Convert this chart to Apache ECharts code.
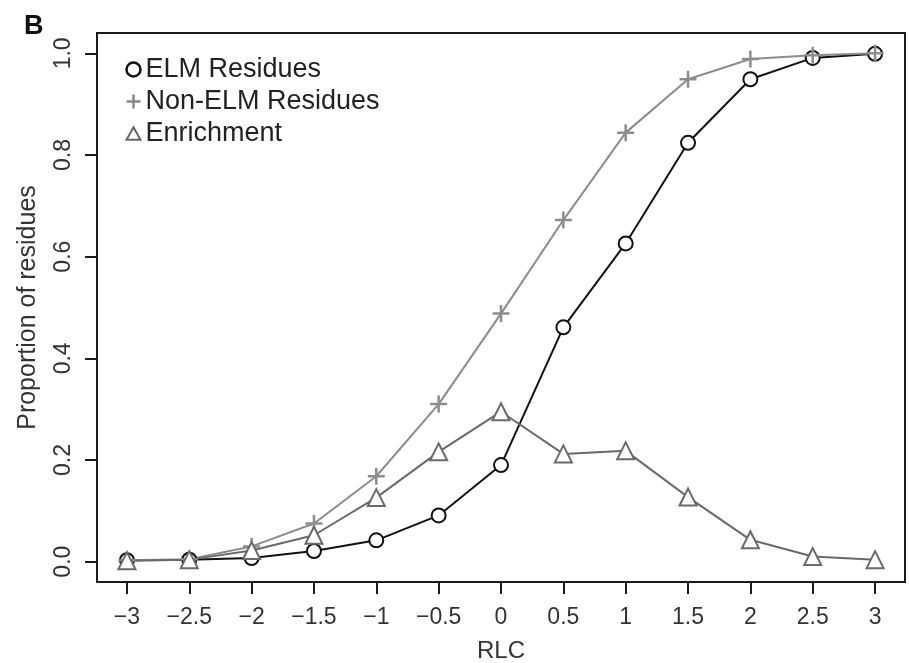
<!DOCTYPE html>
<html lang="en">
<head>
  <meta charset="UTF-8">
  <title>Proportion of residues vs RLC</title>
  <script src="https://cdn.jsdelivr.net/npm/echarts@6/dist/echarts.min.js"></script>
</head>
<body>
<div id="chart"></div>
<style>
  html, body {
    margin: 0;
    width: 100%;
    height: 100%;
    background: #fff;
  }
  #chart {
    width: 909px;
    height: 663px;
  }
</style>
<script>
  // x positions (RLC) and the three curves
  const rlc = [-3, -2.5, -2, -1.5, -1, -0.5, 0, 0.5, 1, 1.5, 2, 2.5, 3];
  const elm = [0.003, 0.004, 0.007, 0.021, 0.042, 0.091, 0.19, 0.461, 0.626, 0.824, 0.949, 0.991, 0.999];
  const nonElm = [0.003, 0.005, 0.03, 0.075, 0.168, 0.31, 0.488, 0.672, 0.844, 0.949, 0.989, 0.996, 1.0];
  const enrichment = [0.002, 0.004, 0.022, 0.052, 0.126, 0.216, 0.295, 0.212, 0.218, 0.127, 0.043, 0.01, 0.004];
  const yTicks = [0, 0.2, 0.4, 0.6, 0.8, 1.0];

  const FONT = 'Liberation Sans, Arial, sans-serif';
  const PLUS = 'path://M0,5L10,5M5,0L5,10';
  const CIRCLE = 'path://M10,5A5,5,0,1,1,0,5A5,5,0,1,1,10,5Z';
  const TRIANGLE = 'path://M5,0L10,9L0,9Z';

  function pairs(ys) {
    return rlc.map((x, i) => [x, ys[i]]);
  }

  const chart = echarts.init(document.getElementById('chart'));
  chart.setOption({
    animation: false,
    backgroundColor: '#fff',
    title: {
      text: 'B',
      left: 19,
      top: 8,
      textStyle: { fontFamily: FONT, fontWeight: 'bold', fontSize: 27, color: '#111' }
    },
    legend: {
      orient: 'vertical',
      left: 119,
      top: 51,
      itemGap: 5,
      itemWidth: 14,
      itemHeight: 14,
      textStyle: { fontFamily: FONT, fontSize: 27, color: '#222' },
      data: [
        { name: 'ELM Residues', icon: CIRCLE, itemStyle: { color: 'none', borderColor: '#111', borderWidth: 2.5 } },
        { name: 'Non-ELM Residues', icon: PLUS, itemStyle: { color: 'none', borderColor: '#888', borderWidth: 2.5 } },
        { name: 'Enrichment', icon: TRIANGLE, itemStyle: { color: 'none', borderColor: '#666', borderWidth: 2 } }
      ]
    },
    grid: {
      left: 97,
      right: 4,
      top: 33,
      bottom: 81,
      outerBoundsMode: 'none',
      show: true,
      borderColor: '#1a1a1a',
      borderWidth: 2
    },
    xAxis: {
      type: 'value',
      min: -3.24,
      max: 3.24,
      name: 'RLC',
      nameLocation: 'middle',
      nameGap: 57,
      nameTextStyle: { fontFamily: FONT, fontSize: 24, color: '#333' },
      axisLine: { show: true, onZero: false, lineStyle: { color: '#1a1a1a', width: 2 } },
      axisTick: { show: true, length: 12, lineStyle: { color: '#1a1a1a', width: 2 }, customValues: rlc },
      axisLabel: {
        margin: 24,
        fontFamily: FONT,
        fontSize: 23,
        color: '#333',
        customValues: rlc,
        formatter: v => String(v).replace('-', '\u2212')
      },
      splitLine: { show: false }
    },
    yAxis: {
      type: 'value',
      min: -0.04,
      max: 1.04,
      name: 'Proportion of residues',
      nameLocation: 'middle',
      nameRotate: 90,
      nameGap: 56,
      nameTextStyle: { fontFamily: FONT, fontSize: 25, color: '#333' },
      axisLine: { show: true, onZero: false, lineStyle: { color: '#1a1a1a', width: 2 } },
      axisTick: { show: true, length: 12, lineStyle: { color: '#1a1a1a', width: 2 }, customValues: yTicks },
      axisLabel: {
        margin: 22,
        rotate: 90,
        fontFamily: FONT,
        fontSize: 23,
        color: '#333',
        customValues: yTicks,
        formatter: v => v.toFixed(1)
      },
      splitLine: { show: false }
    },
    series: [
      {
        name: 'ELM Residues',
        type: 'line',
        data: pairs(elm),
        symbol: 'emptyCircle',
        symbolSize: 14,
        lineStyle: { color: '#111', width: 2 },
        itemStyle: { color: '#111', borderWidth: 2 }
      },
      {
        name: 'Non-ELM Residues',
        type: 'line',
        data: pairs(nonElm),
        symbol: PLUS,
        symbolSize: 17,
        lineStyle: { color: '#8c8c8c', width: 2 },
        itemStyle: { color: 'none', borderColor: '#8c8c8c', borderWidth: 2.5 }
      },
      {
        name: 'Enrichment',
        type: 'line',
        data: pairs(enrichment),
        symbol: 'emptyTriangle',
        symbolSize: 17,
        lineStyle: { color: '#6a6a6a', width: 2 },
        itemStyle: { color: '#6a6a6a', borderWidth: 2 }
      }
    ]
  });
</script>
</body>
</html>
